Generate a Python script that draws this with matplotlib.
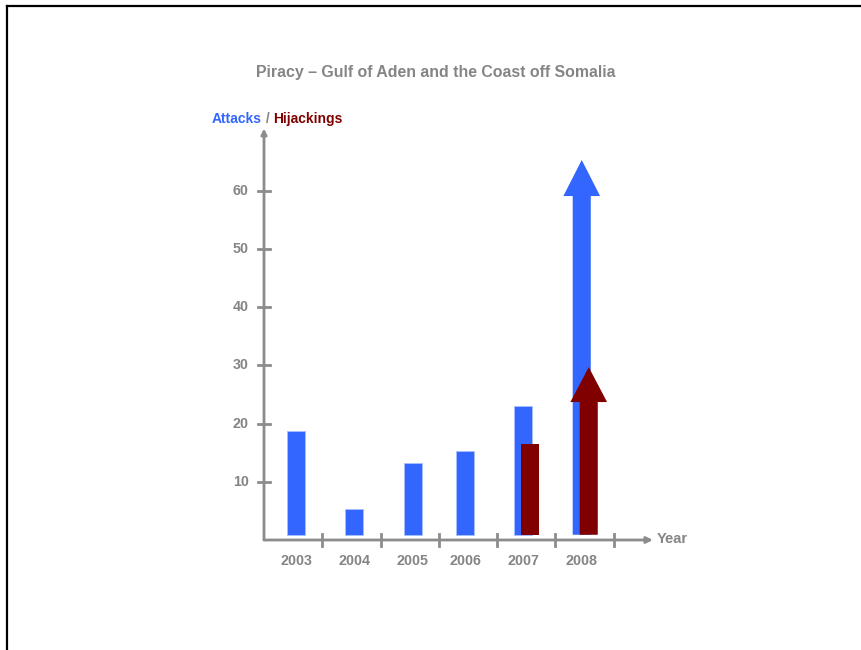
import matplotlib.pyplot as plt
import numpy as np

plt.rcParams['font.family'] = ['Liberation Sans', 'DejaVu Sans']

# Datos
years = ['2003', '2004', '2005', '2006', '2007', '2008']
attacks = [18.7, 5.3, 13.2, 15.3, 23.1, 65.3]
hijackings = [None, None, None, None, 16.5, 29.7]
y_ticks = [10, 20, 30, 40, 50, 60]

blue = '#3366FF'
red = '#800000'
gray = '#858585'
axis_gray = '#8c8c8c'

W, H = 861, 650
fig = plt.figure(figsize=(W / 100, H / 100), dpi=100)

# Marco negro (arriba e izquierda)
fig.add_artist(plt.Line2D([7 / W, 7 / W], [0, 1 - 6 / H], color='black', lw=1.6))
fig.add_artist(plt.Line2D([7 / W, 1], [1 - 6 / H, 1 - 6 / H], color='black', lw=1.6))

# Ejes: origen en (264, 540) px
x0, y0 = 264, 540
xmax, ymax = 6.62, 70.4
px_x = 58.3
px_y = 5.82
ax = fig.add_axes([x0 / W, (H - y0) / H, xmax * px_x / W, ymax * px_y / H])
ax.set_xlim(0, xmax)
ax.set_ylim(0, ymax)
ax.axis('off')

base = 0.9
bw = 0.31
pos = np.arange(len(years)) + 0.55
pos[3:] -= 0.1

# Barras de ataques
for i, v in enumerate(attacks):
    if i == len(years) - 1:
        ax.arrow(pos[i], base, 0, v - base, width=bw, head_width=0.63,
                 head_length=6.2, length_includes_head=True, color=blue, lw=0, zorder=3)
    else:
        ax.bar(pos[i], v - base, bottom=base, width=bw, color=blue,
               edgecolor='#a8bfff', lw=0.6, zorder=3)

# Secuestros
for i, v in enumerate(hijackings):
    if v is None:
        continue
    if i == len(years) - 1:
        ax.arrow(pos[i] + 0.12, base, 0, v - base, width=bw, head_width=0.63,
                 head_length=6.0, length_includes_head=True, color=red, lw=0, zorder=4)
    else:
        ax.bar(pos[i] + 0.12, v - base, bottom=base, width=bw, color=red, lw=0, zorder=4)

# Líneas de ejes con flecha
ax.annotate('', xy=(xmax + 0.05, 0), xytext=(0, 0), annotation_clip=False,
            arrowprops=dict(arrowstyle='-|>', color=axis_gray, lw=2, mutation_scale=9,
                            shrinkA=0, shrinkB=0))
ax.annotate('', xy=(0, ymax + 0.3), xytext=(0, 0), annotation_clip=False,
            arrowprops=dict(arrowstyle='-|>', color=axis_gray, lw=2, mutation_scale=8,
                            shrinkA=0, shrinkB=0))

# Marcas del eje x
for k in range(1, len(years) + 1):
    ax.plot([k, k], [-1.1, 1.1], color=axis_gray, lw=2, clip_on=False)
# Marcas del eje y
for t in y_ticks:
    ax.plot([-0.11, 0.11], [t, t], color=axis_gray, lw=2, clip_on=False)
    ax.text(-0.26, t, str(t), ha='right', va='center', fontsize=10.3,
            fontweight='bold', color=gray)

for i, y in enumerate(years):
    ax.text(pos[i], -3.6, y, ha='center', va='center', fontsize=10.3,
            fontweight='bold', color=gray)

ax.text(xmax + 0.12, 0.1, 'Year', ha='left', va='center', fontsize=10.5,
        fontweight='bold', color=gray)

# Título y leyenda de colores
fig.text(436 / W, 1 - 73 / H, 'Piracy – Gulf of Aden and the Coast off Somalia',
         ha='center', va='center', fontsize=11.4, fontweight='bold', color=gray)
t1 = fig.text(212 / W, 1 - 119 / H, 'Attacks', ha='left', va='center',
              fontsize=10, fontweight='bold', color=blue)
fig.canvas.draw()
bb = t1.get_window_extent()
t2 = fig.text(bb.x1 / W, 1 - 119 / H, ' / ', ha='left', va='center',
              fontsize=10, fontweight='bold', color=gray)
bb = t2.get_window_extent()
fig.text(bb.x1 / W, 1 - 119 / H, 'Hijackings', ha='left', va='center',
         fontsize=10, fontweight='bold', color=red)

fig.savefig('out.png', dpi=100)
